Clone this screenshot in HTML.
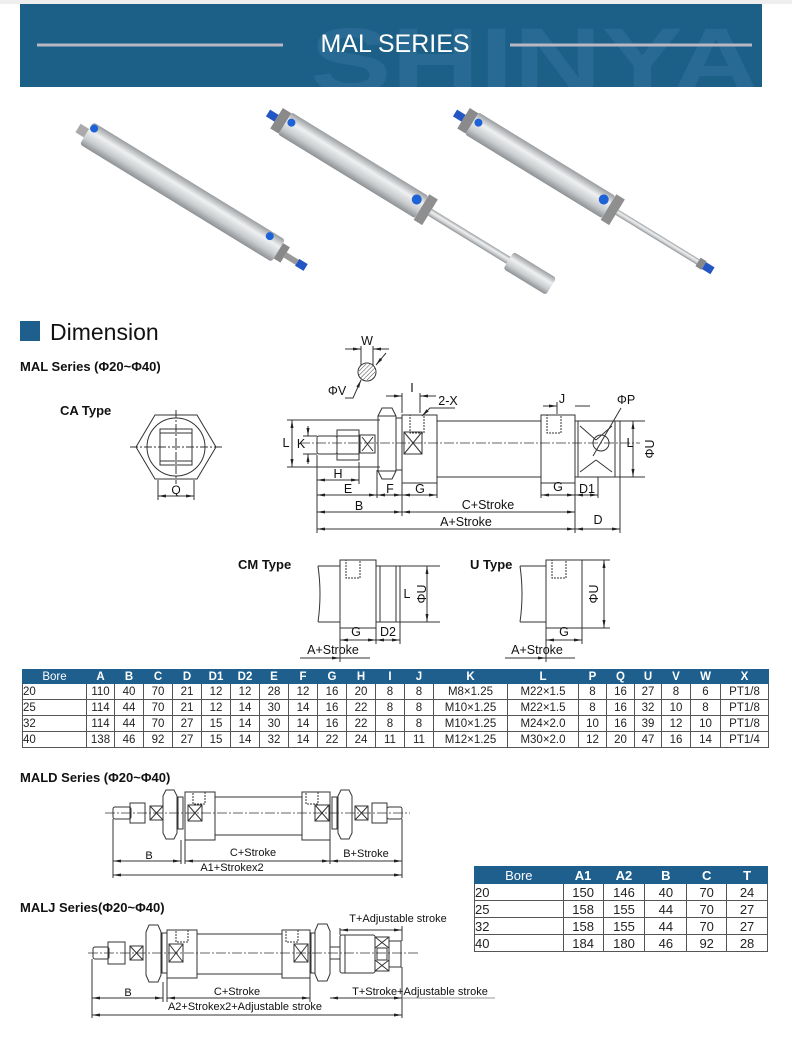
<!DOCTYPE html>
<html><head><meta charset="utf-8"><style>
body{margin:0;width:792px;height:1042px;background:#fff;position:relative;overflow:hidden;font-family:"Liberation Sans",sans-serif}
svg{position:absolute;left:0;top:0}
table{position:absolute;border-collapse:collapse;font-family:"Liberation Sans",sans-serif;font-size:11.5px;color:#222}
td,th{border:1px solid #555;padding:0;text-align:center;font-weight:normal}
th{background:#1e5f8e;color:#fff;font-weight:bold;border-color:#1e5f8e}
td:first-child{text-align:left}
</style></head><body>
<svg width="792" height="1042" viewBox="0 0 792 1042">
<defs>
<linearGradient id="cyl" x1="0" y1="0" x2="0" y2="1"><stop offset="0" stop-color="#9a9da0"/><stop offset=".35" stop-color="#eef0f1"/><stop offset=".7" stop-color="#c9ccce"/><stop offset="1" stop-color="#8d9093"/></linearGradient>
<pattern id="hatch" width="3" height="3" patternUnits="userSpaceOnUse" patternTransform="rotate(45)"><line x1="0" y1="0" x2="0" y2="3" stroke="#444" stroke-width="1"/></pattern>
<marker id="ar" markerWidth="8" markerHeight="6" refX="8" refY="3" orient="auto-start-reverse" markerUnits="userSpaceOnUse"><path d="M0,1.5 L8,3 L0,4.5z" fill="#222"/></marker>
</defs>
<rect x="0" y="0" width="792" height="4" fill="#eee"/>
<rect x="20" y="4" width="742" height="83" fill="#1c5f87"/>
<text x="310" y="92" font-size="92" font-weight="bold" fill="#296a94" textLength="450" lengthAdjust="spacingAndGlyphs">SHINYA</text>
<rect x="20" y="87" width="742" height="10" fill="#fff"/>
<line x1="37" y1="45" x2="283" y2="45" stroke="#b9b7c4" stroke-width="3"/>
<line x1="510" y1="45" x2="752" y2="45" stroke="#b9b7c4" stroke-width="3"/>
<text x="395" y="52" font-size="25" fill="#fff" text-anchor="middle">MAL SERIES</text>

<g>
<g transform="translate(78,128) rotate(31.5)"><rect x="0" y="-5" width="10" height="10" fill="#aaa"/><rect x="10" y="-13" width="225" height="26" rx="3" fill="url(#cyl)"/><rect x="235" y="-9" width="8" height="18" fill="#888"/><rect x="243" y="-3" width="14" height="6" fill="#999"/><rect x="257" y="-4" width="10" height="8" fill="#2456c4"/><circle cx="14" cy="-8" r="4" fill="#1d62d6"/><circle cx="220" cy="-8" r="4" fill="#1d62d6"/></g>
<g transform="translate(268,113) rotate(31.5)"><rect x="0" y="-4" width="10" height="8" fill="#2456c4"/><rect x="10" y="-12" width="10" height="24" fill="#8a8a8a"/><rect x="20" y="-13" width="160" height="26" rx="2" fill="url(#cyl)"/><rect x="180" y="-15" width="10" height="30" fill="#8f8f8f"/><rect x="190" y="-4" width="92" height="8" fill="url(#cyl)"/><rect x="282" y="-10" width="50" height="20" rx="3" fill="url(#cyl)"/><circle cx="25" cy="-4" r="4" fill="#1d62d6"/><circle cx="172" cy="-4" r="5" fill="#1d62d6"/></g>
<g transform="translate(455,113) rotate(31.5)"><rect x="0" y="-4" width="10" height="8" fill="#2456c4"/><rect x="10" y="-12" width="10" height="24" fill="#8a8a8a"/><rect x="20" y="-13" width="160" height="26" rx="2" fill="url(#cyl)"/><rect x="180" y="-15" width="10" height="30" fill="#8f8f8f"/><rect x="190" y="-3" width="95" height="6" fill="url(#cyl)"/><rect x="285" y="-5" width="7" height="10" fill="#888"/><rect x="292" y="-4" width="10" height="8" fill="#2456c4"/><circle cx="25" cy="-4" r="4" fill="#1d62d6"/><circle cx="172" cy="-4" r="5" fill="#1d62d6"/></g>
</g>

<rect x="20" y="321" width="20" height="20" fill="#1e5f8e"/>
<text x="50" y="340" font-size="23" fill="#111">Dimension</text>
<text x="20" y="371" font-size="13" font-weight="bold" fill="#111">MAL Series (Φ20~Φ40)</text>
<text x="60" y="415" font-size="13" font-weight="bold" fill="#111">CA Type</text>

<g fill="none" stroke="#333" stroke-width="1">
<polygon points="155,415 197,415 216,447 197,479 155,479 136,447"/>
<circle cx="176" cy="447" r="29"/>
<path d="M160,429 h32 v36 h-32z M160,433 h32 M160,461 h32" />
<line x1="176" y1="410" x2="176" y2="484" stroke-dasharray="8,2,2,2"/>
<line x1="130" y1="447" x2="222" y2="447" stroke-dasharray="8,2,2,2"/>
<line x1="158" y1="480" x2="158" y2="500"/><line x1="194" y1="480" x2="194" y2="500"/>
<line x1="158" y1="496" x2="194" y2="496" marker-start="url(#ar)" marker-end="url(#ar)"/>

<line x1="300" y1="443" x2="640" y2="443" stroke-dasharray="10,2,2,2" stroke-width=".7"/>
<rect x="317" y="436" width="20" height="18" rx="2"/>
<path d="M337,430 h22 v30 h-22z M337,436 h22 M337,454 h22"/>
<rect x="360" y="435" width="15" height="18"/><path d="M362,437 l11,14 M373,437 l-11,14"/>
<path d="M382,408 h10 l4,8 v55 l-4,8 h-10 l-4,-8 v-55z M378,416 h18 M378,471 h18"/>
<rect x="396" y="418" width="6" height="52"/>
<rect x="402" y="415" width="35" height="68"/>
<rect x="404" y="432" width="18" height="22"/><path d="M404,432 l18,22 M422,432 l-18,22"/>
<rect x="410" y="415" width="14" height="18" stroke-dasharray="2,1"/>
<rect x="437" y="421" width="104" height="56"/>
<rect x="541" y="415" width="34" height="68"/>
<rect x="547" y="415" width="14" height="18" stroke-dasharray="2,1"/>
<rect x="575" y="421" width="45" height="56"/>
<path d="M578,421 v56 M615,421 v56 M580,426 l16,14 M612,426 l-16,14 M580,472 l16,-12 M612,472 l-16,-12"/>
<circle cx="601" cy="443" r="8"/>
<line x1="593" y1="456" x2="621" y2="408"/>
<circle cx="367" cy="372" r="9"/><rect x="359" y="364" width="16" height="16" fill="url(#hatch)" stroke="none" rx="5"/>
<line x1="361" y1="346" x2="361" y2="365"/><line x1="373" y1="346" x2="373" y2="365"/>
<line x1="345" y1="349" x2="361" y2="349" marker-end="url(#ar)"/><line x1="389" y1="349" x2="373" y2="349" marker-end="url(#ar)"/>
<path d="M345,398 h8 l8,-18" marker-end="url(#ar)"/><line x1="386" y1="353" x2="376" y2="365" marker-end="url(#ar)"/>
<line x1="402" y1="393" x2="402" y2="413"/><line x1="420" y1="393" x2="420" y2="413"/>
<line x1="386" y1="396" x2="402" y2="396" marker-end="url(#ar)"/><line x1="436" y1="396" x2="420" y2="396" marker-end="url(#ar)"/>
<path d="M455,408 h-25 l-8,8" marker-end="url(#ar)"/>
<line x1="557" y1="402" x2="557" y2="414"/>
<line x1="543" y1="406" x2="557" y2="406" marker-end="url(#ar)"/><line x1="575" y1="406" x2="590" y2="406"/>
<line x1="620" y1="421" x2="645" y2="421"/><line x1="620" y1="477" x2="645" y2="477"/>
<line x1="633" y1="421" x2="633" y2="477" marker-start="url(#ar)" marker-end="url(#ar)"/>
<line x1="287" y1="420" x2="380" y2="420"/><line x1="287" y1="467" x2="380" y2="467"/>
<line x1="292" y1="420" x2="292" y2="467" marker-start="url(#ar)" marker-end="url(#ar)"/>
<line x1="303" y1="436" x2="317" y2="436"/><line x1="303" y1="454" x2="317" y2="454"/>
<line x1="308" y1="426" x2="308" y2="436" marker-end="url(#ar)"/><line x1="308" y1="464" x2="308" y2="454" marker-end="url(#ar)"/>
<line x1="317" y1="455" x2="317" y2="533"/><line x1="377" y1="470" x2="377" y2="498"/><line x1="402" y1="483" x2="402" y2="516"/>
<line x1="359" y1="462" x2="359" y2="484"/><line x1="437" y1="483" x2="437" y2="498"/>
<line x1="541" y1="483" x2="541" y2="498"/><line x1="575" y1="483" x2="575" y2="533"/><line x1="598" y1="477" x2="598" y2="498"/><line x1="620" y1="477" x2="620" y2="533"/>
<line x1="317" y1="480" x2="359" y2="480" marker-start="url(#ar)" marker-end="url(#ar)"/>
<line x1="317" y1="495" x2="377" y2="495" marker-start="url(#ar)" marker-end="url(#ar)"/>
<line x1="377" y1="495" x2="402" y2="495" marker-start="url(#ar)" marker-end="url(#ar)"/>
<line x1="402" y1="495" x2="437" y2="495" marker-start="url(#ar)" marker-end="url(#ar)"/>
<line x1="541" y1="495" x2="575" y2="495" marker-start="url(#ar)" marker-end="url(#ar)"/>
<line x1="575" y1="495" x2="598" y2="495" marker-start="url(#ar)" marker-end="url(#ar)"/>
<line x1="317" y1="512" x2="402" y2="512" marker-start="url(#ar)" marker-end="url(#ar)"/>
<line x1="402" y1="512" x2="575" y2="512" marker-start="url(#ar)" marker-end="url(#ar)"/>
<line x1="317" y1="529" x2="575" y2="529" marker-start="url(#ar)" marker-end="url(#ar)"/>
<line x1="575" y1="529" x2="620" y2="529" marker-start="url(#ar)" marker-end="url(#ar)"/>

<path d="M318,566 h22 M318,622 h22 M318,566 q4,28 0,56"/>
<rect x="340" y="560" width="36" height="68"/><rect x="346" y="560" width="14" height="18" stroke-dasharray="2,1"/>
<rect x="376" y="566" width="24" height="56"/><path d="M380,566 v56 M396,566 v56"/>
<line x1="400" y1="566" x2="440" y2="566"/><line x1="400" y1="622" x2="440" y2="622"/>
<line x1="427" y1="566" x2="427" y2="622" marker-start="url(#ar)" marker-end="url(#ar)"/>
<line x1="340" y1="628" x2="340" y2="662"/><line x1="376" y1="628" x2="376" y2="644"/><line x1="400" y1="622" x2="400" y2="644"/>
<line x1="340" y1="640" x2="376" y2="640" marker-start="url(#ar)" marker-end="url(#ar)"/>
<line x1="376" y1="640" x2="400" y2="640" marker-start="url(#ar)" marker-end="url(#ar)"/>
<line x1="300" y1="658" x2="340" y2="658" marker-end="url(#ar)"/><line x1="340" y1="658" x2="370" y2="658"/>
<path d="M520,566 h26 M520,622 h26 M520,566 q4,28 0,56"/>
<rect x="546" y="560" width="36" height="68"/><rect x="552" y="560" width="14" height="18" stroke-dasharray="2,1"/>
<line x1="582" y1="560" x2="610" y2="560"/><line x1="582" y1="628" x2="610" y2="628"/>
<line x1="604" y1="560" x2="604" y2="628" marker-start="url(#ar)" marker-end="url(#ar)"/>
<line x1="546" y1="628" x2="546" y2="662"/><line x1="582" y1="628" x2="582" y2="644"/>
<line x1="546" y1="640" x2="582" y2="640" marker-start="url(#ar)" marker-end="url(#ar)"/>
<line x1="505" y1="658" x2="546" y2="658" marker-end="url(#ar)"/><line x1="546" y1="658" x2="575" y2="658"/>

<line x1="105" y1="813" x2="410" y2="813" stroke-dasharray="10,2,2,2" stroke-width=".7"/>
<rect x="113" y="807" width="18" height="12" rx="2"/><path d="M130,803 h15 v20 h-15z"/>
<rect x="150" y="806" width="13" height="14"/><path d="M150,806 l13,14 M163,806 l-13,14"/>
<path d="M166,790 h8 l3,6 v37 l-3,6 h-8 l-3,-6 v-37z"/><rect x="178" y="797" width="5" height="32"/>
<rect x="185" y="792" width="30" height="48"/><rect x="188" y="805" width="14" height="16"/><path d="M188,805 l14,16 M202,805 l-14,16"/><rect x="193" y="792" width="12" height="12" stroke-dasharray="2,1"/>
<rect x="215" y="797" width="87" height="38"/>
<rect x="302" y="792" width="28" height="48"/><rect x="315" y="805" width="14" height="16"/><path d="M315,805 l14,16 M329,805 l-14,16"/><rect x="306" y="792" width="12" height="12" stroke-dasharray="2,1"/>
<rect x="332" y="797" width="5" height="32"/><path d="M341,790 h8 l3,6 v37 l-3,6 h-8 l-3,-6 v-37z"/>
<rect x="355" y="806" width="13" height="14"/><path d="M355,806 l13,14 M368,806 l-13,14"/>
<path d="M372,803 h15 v20 h-15z"/><rect x="387" y="807" width="15" height="12" rx="2"/>
<line x1="113" y1="819" x2="113" y2="878"/><line x1="181" y1="840" x2="181" y2="864"/><line x1="185" y1="840" x2="185" y2="864"/><line x1="330" y1="840" x2="330" y2="864"/><line x1="402" y1="819" x2="402" y2="878"/>
<line x1="113" y1="861" x2="181" y2="861" marker-start="url(#ar)" marker-end="url(#ar)"/>
<line x1="185" y1="861" x2="330" y2="861" marker-start="url(#ar)" marker-end="url(#ar)"/>
<line x1="330" y1="861" x2="402" y2="861" marker-start="url(#ar)" marker-end="url(#ar)"/>
<line x1="113" y1="875" x2="402" y2="875" marker-start="url(#ar)" marker-end="url(#ar)"/>

<line x1="88" y1="953" x2="420" y2="953" stroke-dasharray="10,2,2,2" stroke-width=".7"/>
<rect x="93" y="947" width="16" height="12" rx="2"/><path d="M108,942 h17 v22 h-17z"/>
<rect x="130" y="946" width="13" height="14"/><path d="M130,946 l13,14 M143,946 l-13,14"/>
<path d="M149,925 h9 l3,7 v43 l-3,7 h-9 l-3,-7 v-43z"/><rect x="162" y="933" width="5" height="40"/>
<rect x="167" y="930" width="30" height="48"/><rect x="169" y="944" width="14" height="18"/><path d="M169,944 l14,18 M183,944 l-14,18"/><rect x="176" y="930" width="12" height="12" stroke-dasharray="2,1"/>
<rect x="197" y="934" width="85" height="40"/>
<rect x="282" y="930" width="28" height="48"/><rect x="294" y="944" width="14" height="18"/><path d="M294,944 l14,18 M308,944 l-14,18"/><rect x="286" y="930" width="12" height="12" stroke-dasharray="2,1"/>
<path d="M318,924 h9 l3,7 v43 l-3,7 h-9 l-3,-7 v-43z"/><rect x="311" y="933" width="4" height="40"/>
<rect x="330" y="947" width="10" height="12"/>
<rect x="340" y="935" width="35" height="38" rx="2"/><path d="M345,935 v38"/>
<rect x="375" y="937" width="14" height="34"/><rect x="389" y="941" width="12" height="26"/>
<path d="M375,937 l14,11 M389,937 l-14,11 M375,960 l14,11 M389,960 l-14,11 M377,948 h10 v12 h-10z"/>
<line x1="92" y1="959" x2="92" y2="1018"/><line x1="163" y1="982" x2="163" y2="1002"/><line x1="167" y1="978" x2="167" y2="1002"/><line x1="310" y1="978" x2="310" y2="1002"/><line x1="402" y1="967" x2="402" y2="1018"/>
<line x1="340" y1="928" x2="340" y2="935"/><line x1="402" y1="926" x2="402" y2="941"/>
<line x1="340" y1="930" x2="402" y2="930" marker-start="url(#ar)" marker-end="url(#ar)"/>
<line x1="92" y1="998" x2="163" y2="998" marker-start="url(#ar)" marker-end="url(#ar)"/>
<line x1="167" y1="998" x2="310" y2="998" marker-start="url(#ar)" marker-end="url(#ar)"/>
<line x1="330" y1="998" x2="402" y2="998" marker-start="url(#ar)" marker-end="url(#ar)"/><line x1="402" y1="998" x2="495" y2="998" stroke="#999"/>
<line x1="92" y1="1015" x2="402" y2="1015" marker-start="url(#ar)" marker-end="url(#ar)"/>
</g>

<g font-size="12.5" fill="#111" text-anchor="middle">
<text x="176" y="494" font-size="12">Q</text>
<text x="367" y="345">W</text><text x="337" y="395">ΦV</text>
<text x="412" y="392">I</text><text x="448" y="405">2-X</text><text x="562" y="403">J</text><text x="626" y="404">ΦP</text>
<text x="286" y="447">L</text><text x="301" y="448">K</text>
<text x="338" y="478">H</text><text x="348" y="493">E</text><text x="390" y="493">F</text><text x="420" y="493">G</text>
<text x="558" y="491">G</text><text x="587" y="493">D1</text>
<text x="359" y="510">B</text><text x="488" y="509">C+Stroke</text><text x="466" y="526">A+Stroke</text><text x="598" y="524">D</text>
<text x="630" y="447">L</text><text transform="rotate(-90 650 449)" x="650" y="453">ΦU</text>
<text x="356" y="636">G</text><text x="388" y="636">D2</text><text x="333" y="654">A+Stroke</text>
<text x="407" y="598">L</text><text transform="rotate(-90 422 594)" x="422" y="598">ΦU</text>
<text x="564" y="636">G</text><text x="537" y="654">A+Stroke</text>
<text transform="rotate(-90 594 594)" x="594" y="598">ΦU</text>
</g>
<g font-size="11" fill="#111" text-anchor="middle">
<text x="149" y="859">B</text><text x="253" y="856">C+Stroke</text><text x="366" y="857">B+Stroke</text><text x="232" y="871">A1+Strokex2</text>
<text x="128" y="996">B</text><text x="237" y="995">C+Stroke</text><text x="420" y="995">T+Stroke+Adjustable stroke</text><text x="245" y="1010">A2+Strokex2+Adjustable stroke</text><text x="398" y="922">T+Adjustable stroke</text>
</g>
<g font-size="13" font-weight="bold" fill="#111">
<text x="238" y="569">CM Type</text><text x="470" y="569">U Type</text>
<text x="20" y="782">MALD Series (Φ20~Φ40)</text>
<text x="20" y="912">MALJ Series(Φ20~Φ40)</text>
</g>
</svg>

<table style="left:22px;top:669px;width:747px">
<colgroup><col style="width:64px"><col style="width:28px"><col style="width:29px"><col style="width:29px"><col style="width:29px"><col style="width:29px"><col style="width:29px"><col style="width:29px"><col style="width:29px"><col style="width:29px"><col style="width:29px"><col style="width:29px"><col style="width:29px"><col style="width:74px"><col style="width:71px"><col style="width:28px"><col style="width:28px"><col style="width:27px"><col style="width:29px"><col style="width:30px"><col style="width:48px"></colgroup>
<tr style="height:14px"><th style="font-weight:normal">Bore</th><th>A</th><th>B</th><th>C</th><th>D</th><th>D1</th><th>D2</th><th>E</th><th>F</th><th>G</th><th>H</th><th>I</th><th>J</th><th>K</th><th>L</th><th>P</th><th>Q</th><th>U</th><th>V</th><th>W</th><th>X</th></tr>
<tr style="height:16px"><td>20</td><td>110</td><td>40</td><td>70</td><td>21</td><td>12</td><td>12</td><td>28</td><td>12</td><td>16</td><td>20</td><td>8</td><td>8</td><td>M8×1.25</td><td>M22×1.5</td><td>8</td><td>16</td><td>27</td><td>8</td><td>6</td><td>PT1/8</td></tr>
<tr style="height:16px"><td>25</td><td>114</td><td>44</td><td>70</td><td>21</td><td>12</td><td>14</td><td>30</td><td>14</td><td>16</td><td>22</td><td>8</td><td>8</td><td>M10×1.25</td><td>M22×1.5</td><td>8</td><td>16</td><td>32</td><td>10</td><td>8</td><td>PT1/8</td></tr>
<tr style="height:16px"><td>32</td><td>114</td><td>44</td><td>70</td><td>27</td><td>15</td><td>14</td><td>30</td><td>14</td><td>16</td><td>22</td><td>8</td><td>8</td><td>M10×1.25</td><td>M24×2.0</td><td>10</td><td>16</td><td>39</td><td>12</td><td>10</td><td>PT1/8</td></tr>
<tr style="height:16px"><td>40</td><td>138</td><td>46</td><td>92</td><td>27</td><td>15</td><td>14</td><td>32</td><td>14</td><td>22</td><td>24</td><td>11</td><td>11</td><td>M12×1.25</td><td>M30×2.0</td><td>12</td><td>20</td><td>47</td><td>16</td><td>14</td><td>PT1/4</td></tr>
</table>

<table style="left:474px;top:866px;width:294px;font-size:13px">
<colgroup><col style="width:89px"><col style="width:40px"><col style="width:42px"><col style="width:42px"><col style="width:40px"><col style="width:41px"></colgroup>
<tr style="height:17px"><th style="font-weight:normal">Bore</th><th>A1</th><th>A2</th><th>B</th><th>C</th><th>T</th></tr>
<tr style="height:17px"><td>20</td><td>150</td><td>146</td><td>40</td><td>70</td><td>24</td></tr>
<tr style="height:17px"><td>25</td><td>158</td><td>155</td><td>44</td><td>70</td><td>27</td></tr>
<tr style="height:17px"><td>32</td><td>158</td><td>155</td><td>44</td><td>70</td><td>27</td></tr>
<tr style="height:17px"><td>40</td><td>184</td><td>180</td><td>46</td><td>92</td><td>28</td></tr>
</table>
</body></html>
